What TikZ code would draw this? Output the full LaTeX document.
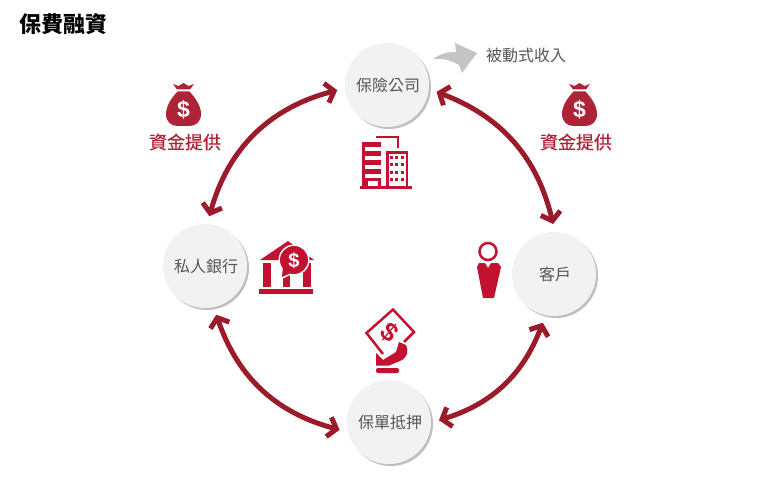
\documentclass[tikz,border=0pt]{standalone}
\usepackage{fontspec}
\setmainfont{Noto Sans CJK TC}
\newfontfamily\latinfont{Liberation Sans}
\newfontfamily\fundfont[FakeBold=0.4]{Noto Sans CJK TC}
\usetikzlibrary{arrows.meta,shadows}
\definecolor{darkred}{HTML}{9B1B2B}
\definecolor{bagred}{HTML}{AE2335}
\definecolor{iconred}{HTML}{C2122F}
\definecolor{circlefill}{HTML}{F2F2F2}
\definecolor{labelgray}{HTML}{555555}
\newcommand{\partylabel}[1]{\raisebox{-1pt}{\hspace{2pt}#1}}
\tikzset{
    party/.style={shape=circle,fill=circlefill,minimum size=84pt,outer sep=8pt,text=labelgray,font=\fontsize{16}{18}\selectfont,
        drop shadow={shadow xshift=2pt,shadow yshift=-2pt,fill=black!25,opacity=1}},
    flow/.style={draw=darkred,line width=5pt,{Straight Barb[length=8pt,width=20pt]}-{Straight Barb[length=8pt,width=20pt]}},
    funding/.style={text=bagred,font=\fundfont\fontsize{18}{20}\selectfont},
    dollar/.style={text=white,font=\latinfont\bfseries\fontsize{#1}{#1}\selectfont,inner sep=0pt},
    moneybag/.pic={
        \fill[bagred] (-10.5,-21) -- (-5,-19) -- (0,-22) -- (5,-19) -- (10.5,-21) -- (6.5,-15.5) -- (-6.5,-15.5) -- cycle;
        \fill[bagred] (-6,-13.5) -- (6,-13.5) .. controls (12,-7) and (17.5,1) .. (17.5,9) .. controls (17.5,17) and (12,21) .. (6,21)
            -- (-6,21) .. controls (-12,21) and (-17.5,17) .. (-17.5,9) .. controls (-17.5,1) and (-12,-7) .. (-6,-13.5) -- cycle;
        \node[dollar=23] (sign) at (0,5) {\$};
    },
    tower/.pic={
        \fill[iconred] (360,186) rectangle (412,189);
        \fill[iconred] (362,142) rectangle (381,186);
        \foreach \y in {147,156,165,174} {
            \fill[white] (365,\y) rectangle (381,\y+4);
        }
        \fill[white] (368,181) rectangle (378,186);
        \draw[iconred,line width=2pt] (376,137) -- (398,137) -- (398,148);
        \fill[iconred] (386,151) rectangle (408,186);
        \fill[white] (388.5,153.5) rectangle (405.5,186);
        \foreach \x in {391,396.5,402} {
            \foreach \y in {157,164,172,179} {
                \fill[iconred] (\x-1.5,\y-1.5) rectangle (\x+1.5,\y+1.5);
            }
        }
    },
    bankhouse/.pic={
        \fill[iconred] (288,241) -- (314,260) -- (260,260) -- cycle;
        \fill[iconred] (263,263) rectangle (271,287);
        \fill[iconred] (283,263) rectangle (290,287);
        \fill[iconred] (303,263) rectangle (311,287);
        \fill[iconred] (259,289) rectangle (313,294);
        \fill[white] (294,260) circle (15.5);
        \fill[white] (280,280) -- (282,266) -- (292,274) -- cycle;
        \fill[iconred] (282,277) -- (283,266) -- (291,273) -- cycle;
        \fill[iconred] (294,260) circle (14);
        \node[dollar=20] (sign) at (294,261) {\$};
    },
    person/.pic={
        \draw[iconred,line width=2.5pt] (488,251.5) circle (8.5);
        \fill[iconred] (479,263) -- (485,263) -- (488,268) -- (491,263) -- (498,263) -- (501,267) -- (494,298) -- (483,298) -- (477,267) -- cycle;
    },
    pledge/.pic={
        \fill[iconred] (376,353) -- (383,360) -- (396,352) -- (399,342) -- (406,345) .. controls (409,352) and (407,358) .. (400,361) -- (389,365.5) -- (376,365.5) -- cycle;
        \draw[iconred,line width=2.5pt] (383,354) -- (366.5,333) -- (393,309.5) -- (414,332) -- (404,342);
        \node[text=iconred,font=\latinfont\bfseries\fontsize{26}{26}\selectfont,inner sep=0pt,rotate=-40] (sign) at (390,332) {\$};
        \fill[iconred,rounded corners=2pt] (376,368) rectangle (399,373);
    }
}
\begin{document}
\begin{tikzpicture}[x=1pt,y=-1pt]
    \useasboundingbox (0,0) rectangle (760,492);

    \node[anchor=west,inner sep=0pt,font=\fontsize{22}{24}\selectfont\bfseries] (title) at (19,24) {保費融資};

    \node[party] (ins) at (387,85) {\partylabel{保險公司}};
    \node[party] (bank) at (205,266) {\partylabel{私人銀行}};
    \node[party] (client) at (554,274) {\partylabel{客戶}};
    \node[party] (policy) at (389,422) {\partylabel{保單抵押}};

    \draw[flow] (bank.85) to [bend left=30] (ins.186);
    \draw[flow] (ins.-8) to [bend left=28] (client.91);
    \draw[flow] (client.257) to [bend left=26] (policy.2);
    \draw[flow] (policy.189) to [bend left=28] (bank.-77);

    % passive income
    \fill[black!23] (433,59) .. controls (443,52) and (450,52) .. (456,52) -- (455,43) -- (477,53) -- (462,73) -- (459,65) .. controls (450,60) and (442,58) .. (433,59) -- cycle;
    \node[anchor=west,inner sep=0pt,text=labelgray,font=\fontsize{16}{18}\selectfont] (income) at (486,55) {被動式收入};

    \pic (bagA) at (183.5,105) {moneybag};
    \pic (bagB) at (579.5,105) {moneybag};
    \node[funding] (fundA) at (185,142) {資金提供};
    \node[funding] (fundB) at (576,142) {資金提供};

    \pic (iconA) at (0,0) {tower};
    \pic (iconB) at (0,0) {bankhouse};
    \pic (iconC) at (0,0) {person};
    \pic (iconD) at (0,0) {pledge};
\end{tikzpicture}
\end{document}
